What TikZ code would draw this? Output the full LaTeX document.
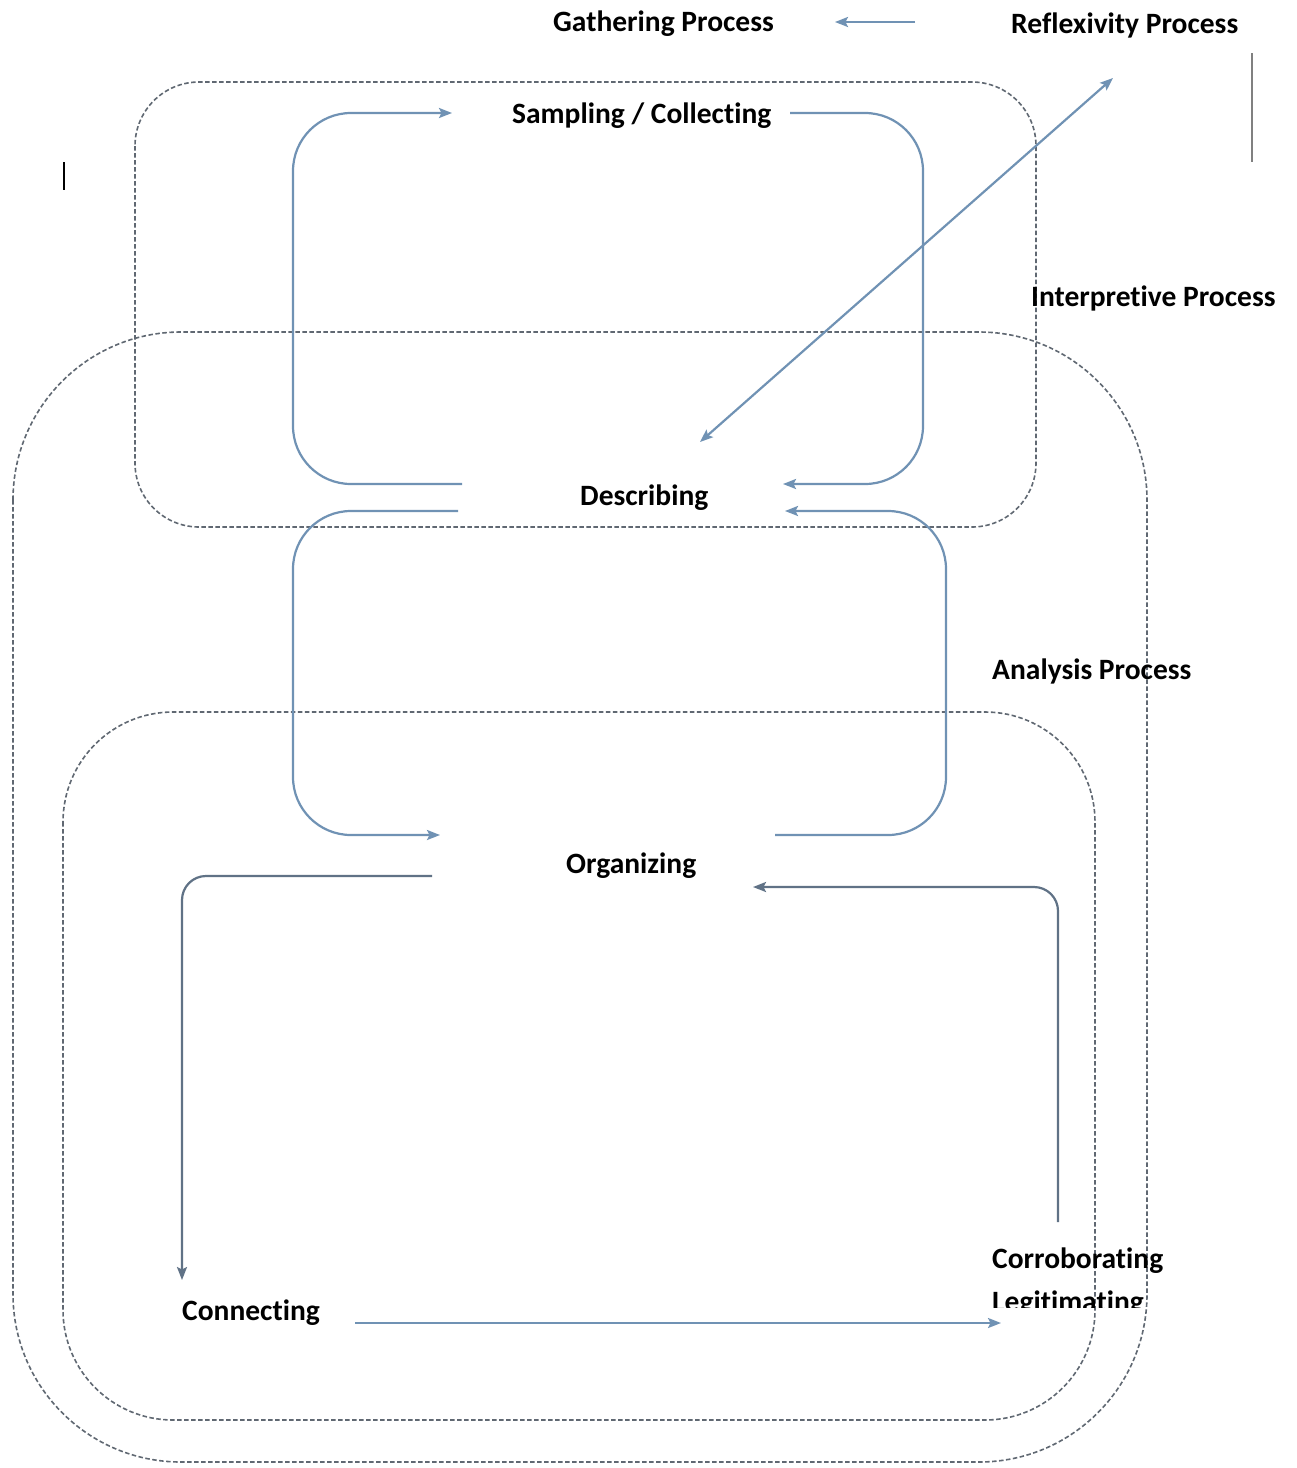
\documentclass[tikz,border=0pt]{standalone}
\usepackage{fontspec}
\setmainfont{Carlito}[Ligatures=NoCommon]
\usetikzlibrary{arrows.meta}
\definecolor{flowblue}{RGB}{112,146,180}
\definecolor{flowdark}{RGB}{96,114,134}
\definecolor{dashgray}{RGB}{96,104,114}
\tikzset{
  lbl/.style={anchor=base west, inner sep=0pt, font=\fontsize{29.5}{34}\selectfont\bfseries},
  tip/.style={},
  dbox/.style={draw=dashgray, line width=1.6pt, dash pattern=on 4.5pt off 2.5pt},
  flow/.style={draw=flowblue, line width=2.2pt, -{Stealth[length=13pt,width=10pt,inset=2.5pt]}},
  flowd/.style={draw=flowdark, line width=2.2pt, -{Stealth[length=13pt,width=10pt,inset=2.5pt]}},
}
\begin{document}
\begin{tikzpicture}[x=1pt,y=-1pt]
\useasboundingbox[fill=white] (0,0) rectangle (1297,1468);

% dashed process boxes
\draw[dbox, rounded corners=64] (135,82) rectangle (1036,527);
\draw[dbox, rounded corners=168] (13,332) rectangle (1147,1462);
\draw[dbox, rounded corners=110] (63,712) rectangle (1095,1420);

% labels
\node[lbl] (gath) at (553,31) {Gathering Process};
\node[lbl] (refl) at (1011,33) {Reflexivity Process};
\node[lbl] (samp) at (512,123) {Sampling / Collecting};
\node[lbl] (interp) at (1031,306) {Interpretive Process};
\node[lbl] (desc) at (580,505) {Describing};
\node[lbl] (anal) at (992,679) {Analysis Process};
\node[lbl] (org) at (566,873) {Organizing};
\node[lbl] (corr) at (992,1268) {Corroborating};
\begin{scope}
\clip (980,1280) rectangle (1200,1307);
\node[lbl] (legit) at (992,1311) {Legitimating};
\end{scope}
\node[lbl] (conn) at (182,1320) {Connecting};

% connector end points
\coordinate (g1) at (915,22);
\coordinate (g2) at (835,22);
\coordinate (s1) at (462,484);
\coordinate (s2) at (452,113);
\coordinate (s3) at (790,113);
\coordinate (s4) at (783,484);
\coordinate (r1) at (700,442);
\coordinate (r2) at (1113,78);
\coordinate (d1) at (458,511);
\coordinate (d2) at (440,835);
\coordinate (d3) at (775,835);
\coordinate (d4) at (785,511);
\coordinate (o1) at (432,876);
\coordinate (o2) at (182,1280);
\coordinate (o3) at (1058,1222);
\coordinate (o4) at (753,887);
\coordinate (c1) at (355,1323);
\coordinate (c2) at (1001,1323);

% connectors
\draw[flow] (g1) -- (g2);
\draw[flow, rounded corners=58] (s1) -- (293,484) -- (293,113) -- (s2);
\draw[flow, rounded corners=58] (s3) -- (923,113) -- (923,484) -- (s4);
\draw[flow, {Stealth[length=13pt,width=10pt,inset=2.5pt]}-{Stealth[length=13pt,width=10pt,inset=2.5pt]}] (r1) -- (r2);
\draw[flow, rounded corners=58] (d1) -- (293,511) -- (293,835) -- (d2);
\draw[flow, rounded corners=58] (d3) -- (946,835) -- (946,511) -- (d4);
\draw[flowd, rounded corners=24] (o1) -- (182,876) -- (o2);
\draw[flowd, rounded corners=24] (o3) -- (1058,887) -- (o4);
\draw[flow] (c1) -- (c2);

% stray marks
\coordinate (m1) at (64,162);
\coordinate (m2) at (64,190);
\coordinate (m3) at (1252,53);
\coordinate (m4) at (1252,162);
\draw[black, line width=2pt] (m1) -- (m2);
\draw[gray, line width=2pt] (m3) -- (m4);
\end{tikzpicture}
\end{document}
